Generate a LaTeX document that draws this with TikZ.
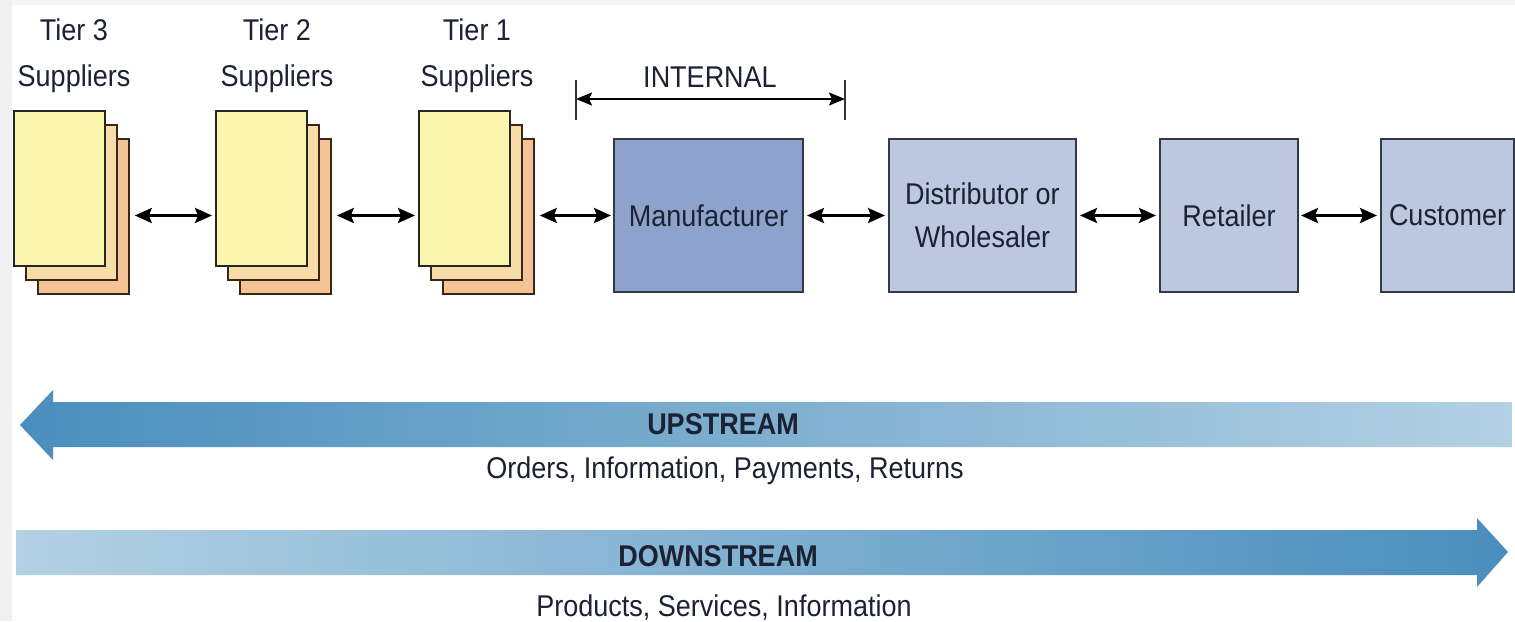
\documentclass[tikz,border=0pt]{standalone}
\usepackage{fontspec}
\setmainfont{Liberation Sans}[FakeStretch=0.9]
\usetikzlibrary{arrows.meta,calc}
\definecolor{txt}{HTML}{1C2233}
\definecolor{edge}{HTML}{333A45}
\definecolor{pageA}{HTML}{FBF6AE}
\definecolor{pageB}{HTML}{F8DCA8}
\definecolor{pageC}{HTML}{F4C496}
\definecolor{mfg}{HTML}{8EA3CB}
\definecolor{ent}{HTML}{BDC7E0}
\definecolor{darkblue}{HTML}{4A8EBD}
\definecolor{lightblue}{HTML}{B3D1E4}
\begin{document}
\begin{tikzpicture}[x=1pt,y=-1pt,
  lbl/.style={font=\fontsize{30}{46}\selectfont, text=txt, inner sep=0pt},
  boldlbl/.style={font=\fontsize{30}{34}\selectfont\bfseries, text=txt, inner sep=0pt},
  front/.style={draw=black!85, line width=1.8pt, fill=pageA, minimum width=91pt, minimum height=155pt, inner sep=0pt, anchor=north west},
  backB/.style={draw=black!70!brown, line width=1.8pt, fill=pageB, minimum width=91pt, minimum height=155pt, inner sep=0pt, anchor=north west},
  backC/.style={draw=black!70!brown, line width=1.8pt, fill=pageC, minimum width=91pt, minimum height=155pt, inner sep=0pt, anchor=north west},
  ent/.style={draw=edge, line width=2pt, fill=ent, minimum height=153pt, inner sep=0pt, font=\fontsize{30}{43}\selectfont, text=txt, align=center},
  dbl/.style={line width=2.8pt, {Stealth[length=17pt,width=15pt,inset=3pt]}-{Stealth[length=17pt,width=15pt,inset=3pt]}},
  tick/.style={line width=1.8pt, black!80}
]
\useasboundingbox (0,0) rectangle (1515,621);
\fill[white] (0,0) rectangle (1515,621);
\fill[black!6] (0,0) rectangle (12,621);
\fill[black!4] (12,0) rectangle (1515,5);

% supplier stacks
\foreach \n/\x in {t3/13, t2/215, t1/418}{
  \node[backC] (\n c) at (\x+24,138) {};
  \node[backB] (\n b) at (\x+12,124) {};
  \node[front] (\n) at (\x,110) {};
}
\node[lbl, anchor=base, align=center] (l3) at (74,86) {Tier 3\\Suppliers};
\node[lbl, anchor=base, align=center] (l2) at (277,86) {Tier 2\\Suppliers};
\node[lbl, anchor=base, align=center] (l1) at (477,86) {Tier 1\\Suppliers};

% internal chain
\node[ent, fill=mfg, minimum width=189pt] (m) at (708.5,215.5) {Manufacturer};
\node[ent, minimum width=187pt] (d) at (982.5,215.5) {Distributor or\\Wholesaler};
\node[ent, minimum width=138pt] (r) at (1229,215.5) {Retailer};
\node[ent, minimum width=133pt] (c) at (1447.5,215.5) {Customer};

% connectors
\draw[dbl, shorten <=5pt, shorten >=3pt] (t3c.east |- m) -- (t2.west |- m);
\draw[dbl, shorten <=5pt, shorten >=3pt] (t2c.east |- m) -- (t1.west |- m);
\draw[dbl, shorten <=5pt, shorten >=2pt] (t1c.east |- m) -- (m.west);
\draw[dbl, shorten <=3pt, shorten >=3pt] (m.east) -- (d.west);
\draw[dbl, shorten <=3pt, shorten >=3pt] (d.east) -- (r.west);
\draw[dbl, shorten <=2pt, shorten >=3pt] (r.east) -- (c.west);

% internal bracket
\coordinate (il) at (576,99);
\coordinate (ir) at (845,99);
\draw[tick] ($(il)+(0,-19)$) -- ($(il)+(0,21)$);
\draw[tick] ($(ir)+(0,-19)$) -- ($(ir)+(0,21)$);
\draw[line width=2pt, {Stealth[length=16pt,width=13pt,inset=3pt]}-{Stealth[length=16pt,width=13pt,inset=3pt]}] (il) -- (ir);
\node[lbl, anchor=base] (int) at (710,87) {INTERNAL};

% flow arrows
\shade[left color=darkblue, right color=lightblue]
  (20,425) -- (53,390) -- (53,402) -- (1512,402) -- (1512,447) -- (53,447) -- (53,460) -- cycle;
\shade[left color=lightblue, right color=darkblue]
  (16,530) -- (1477,530) -- (1477,518) -- (1508,552) -- (1477,587) -- (1477,575) -- (16,575) -- cycle;

\node[boldlbl, anchor=base] (up) at (723,434) {UPSTREAM};
\node[lbl, anchor=base] (upt) at (725,478) {Orders, Information, Payments, Returns};
\node[boldlbl, anchor=base] (down) at (718,566) {DOWNSTREAM};
\node[lbl, anchor=base] (downt) at (724,616) {Products, Services, Information};
\end{tikzpicture}
\end{document}
